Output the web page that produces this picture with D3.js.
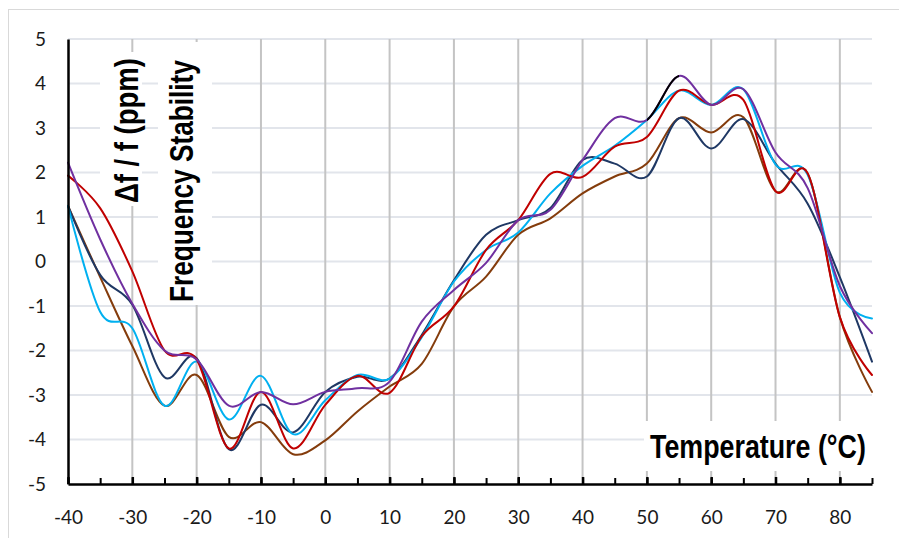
<!DOCTYPE html>
<html>
<head>
<meta charset="utf-8">
<script src="https://cdn.jsdelivr.net/npm/d3@7"></script>
<style>
  html, body { margin: 0; padding: 0; background: #fff; }
  svg { display: block; }
  .tick text { font-family: Lato, "Open Sans", sans-serif; font-size: 19px; fill: #1a1a1a; }
  .title { font-family: "Liberation Sans Narrow", "Liberation Sans", Arial, sans-serif; font-weight: bold; font-size: 34px; fill: #000; }
</style>
</head>
<body>
<svg id="chart" width="899" height="538"></svg>
<script>
// Temperature sweep, °C
const temps = [-40, -35, -30, -25, -20, -15, -10, -5, 0, 5, 10, 15, 20, 25, 30, 35, 40, 45, 50, 55, 60, 65, 70, 75, 80, 85];

// Frequency deviation per unit, ppm
const unitNavy   = [1.25, -0.3, -0.97, -2.6, -2.17, -4.22, -3.22, -3.84, -2.93, -2.59, -2.63, -1.65, -0.42, 0.6, 0.93, 1.2, 2.28, 2.2, 1.91, 3.22, 2.54, 3.2, 2.2, 1.3, -0.35, -2.25];
const unitSky    = [1.25, -1.13, -1.5, -3.24, -2.25, -3.55, -2.57, -3.88, -3.12, -2.55, -2.63, -1.7, -0.45, 0.26, 0.65, 1.53, 2.15, 2.6, 3.18, 3.84, 3.52, 3.87, 2.18, 1.95, -0.7, -1.28];
const unitPurple = [2.22, 0.5, -0.95, -2.0, -2.2, -3.24, -2.93, -3.21, -2.93, -2.85, -2.7, -1.35, -0.64, -0.03, 0.93, 1.16, 2.28, 3.22, 3.18, 4.17, 3.52, 3.87, 2.45, 1.65, -0.55, -1.61];
const unitRed    = [1.93, 1.2, -0.22, -2.0, -2.2, -4.2, -2.93, -4.2, -3.22, -2.57, -2.95, -1.68, -1.01, 0.26, 0.93, 1.97, 1.9, 2.58, 2.8, 3.84, 3.52, 3.63, 1.58, 1.98, -1.25, -2.55];
const unitBrown  = [1.25, -0.35, -1.9, -3.24, -2.55, -3.94, -3.61, -4.33, -4.02, -3.37, -2.81, -2.3, -1.01, -0.34, 0.6, 0.97, 1.53, 1.91, 2.2, 3.22, 2.9, 3.24, 1.58, 1.98, -1.25, -2.93];

// Axis ticks
const xTickLabels = [-40, -30, -20, -10, 0, 10, 20, 30, 40, 50, 60, 70, 80];
const xMinorTicks = d3.range(-40, 86, 5);
const yTickLabels = [-5, -4, -3, -2, -1, 0, 1, 2, 3, 4, 5];

// Series in drawing order (later ones sit on top)
const series = [
  { name: "unit 5", values: unitBrown,  color: "#843c0c" },
  { name: "unit 1", values: unitNavy,   color: "#1f3864" },
  { name: "unit 2", values: unitSky,    color: "#00b0f0" },
  { name: "unit 4", values: unitRed,    color: "#c00000" },
  { name: "unit 3", values: unitPurple, color: "#7030a0" }
];
// One segment of unit 3 carries its own line colour
const segmentOverrides = [{ name: "unit 3", from: 50, to: 55, color: "#000000" }];

const svg = d3.select("#chart");
const x = d3.scaleLinear().domain([-40, 85]).range([68, 872]);
const y = d3.scaleLinear().domain([-5, 5]).range([484, 39]);

// Outer chart frame
svg.append("rect").attr("x", 8.5).attr("y", 9.5).attr("width", 900).attr("height", 540)
  .attr("fill", "#fff").attr("stroke", "#d9d9d9").attr("stroke-width", 1);

// Horizontal gridlines
svg.append("g").selectAll("line").data(yTickLabels.filter(v => v !== -5)).join("line")
  .attr("x1", x(-40)).attr("x2", x(85))
  .attr("y1", d => y(d)).attr("y2", d => y(d))
  .attr("stroke", "#e2e5eb").attr("stroke-width", 2);

// Vertical gridlines
svg.append("g").selectAll("line").data(xTickLabels.filter(v => v !== -40)).join("line")
  .attr("x1", d => x(d)).attr("x2", d => x(d))
  .attr("y1", y(5)).attr("y2", y(-5))
  .attr("stroke", "#c4c4c4").attr("stroke-width", 2);

// Curves
const line = d3.line()
  .x((d, i) => x(temps[i]))
  .y(d => y(d))
  .curve(d3.curveCatmullRom.alpha(0));

const defs = svg.append("defs");
segmentOverrides.forEach((s, k) => {
  defs.append("clipPath").attr("id", "seg" + k).append("rect")
    .attr("x", x(s.from)).attr("width", x(s.to) - x(s.from))
    .attr("y", 0).attr("height", 538);
});

const curves = svg.append("g").attr("fill", "none").attr("stroke-width", 2)
  .attr("stroke-linejoin", "round").attr("stroke-linecap", "round");
series.forEach(s => {
  curves.append("path").attr("d", line(s.values)).attr("stroke", s.color);
  segmentOverrides.forEach((o, k) => {
    if (o.name === s.name) {
      curves.append("path").attr("d", line(s.values)).attr("stroke", o.color)
        .attr("clip-path", "url(#seg" + k + ")");
    }
  });
});

// Axis title boxes (white fill covering grid and curves)
const titleBoxes = svg.append("g").attr("fill", "#fff");
titleBoxes.append("rect").attr("x", 100).attr("y", 52).attr("width", 42).attr("height", 154);
titleBoxes.append("rect").attr("x", 158).attr("y", 42).attr("width", 54).attr("height", 263);
titleBoxes.append("rect").attr("x", 644).attr("y", 421).attr("width", 228).attr("height", 50);

// Condensed bold titles: horizontally squeeze the glyphs to the wanted run length
function condensedTitle(str, tx, ty, angle, runLength) {
  const t = svg.append("text").attr("class", "title").text(str);
  const natural = t.node().getComputedTextLength();
  const k = runLength / natural;
  t.attr("transform", `translate(${tx},${ty}) rotate(${angle}) scale(${k},1)`);
  return t;
}
condensedTitle("Δf / f (ppm)", 138, 203, -90, 145);
condensedTitle("Frequency Stability", 193, 302, -90, 242);
condensedTitle("Temperature (°C)", 650, 458, 0, 216);

// Axes
const fmt = d => String(d);
const yAxis = svg.append("g").attr("transform", `translate(${x(-40)},0)`)
  .call(d3.axisLeft(y).tickValues(yTickLabels).tickFormat(fmt).tickSize(0).tickPadding(22));
yAxis.select(".domain").attr("stroke", "#000").attr("stroke-width", 2.5);

const xMinor = svg.append("g").attr("transform", `translate(0,${y(-5)})`)
  .call(d3.axisBottom(x).tickValues(xMinorTicks).tickFormat("").tickSizeInner(-6).tickSizeOuter(0));
xMinor.selectAll(".tick line").attr("stroke", "#000").attr("stroke-width", 2);
xMinor.select(".domain").attr("stroke", "#000").attr("stroke-width", 2.5);

const xMajor = svg.append("g").attr("transform", `translate(0,${y(-5)})`)
  .call(d3.axisBottom(x).tickValues(xTickLabels).tickFormat(fmt).tickSizeInner(-7).tickSizeOuter(0).tickPadding(27));
xMajor.select(".domain").remove();
xMajor.selectAll(".tick line").attr("stroke", "#000").attr("stroke-width", 2.5);
</script>
</body>
</html>
